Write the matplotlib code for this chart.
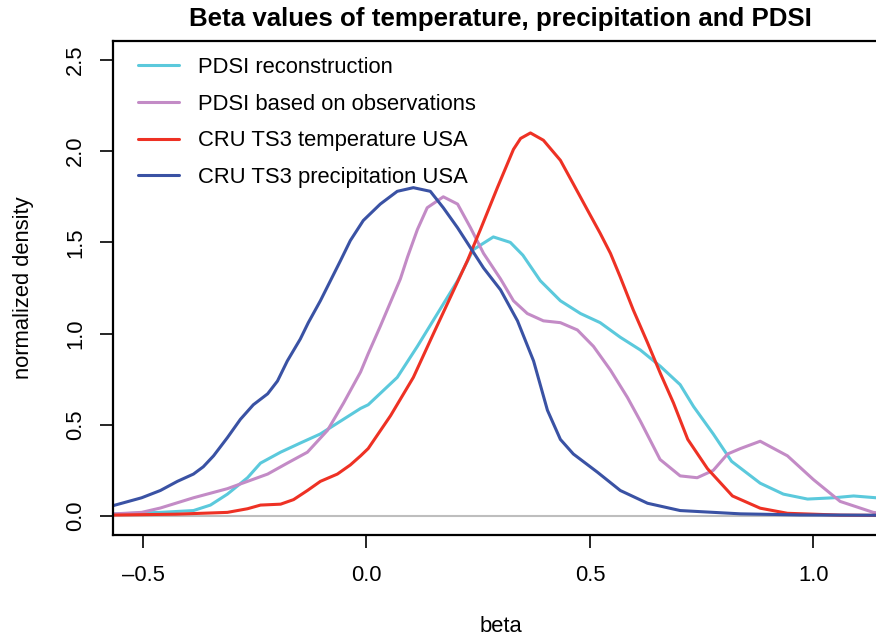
import matplotlib
matplotlib.use("Agg")
import matplotlib.pyplot as plt

plt.rcParams['font.family'] = ['Liberation Sans', 'DejaVu Sans']

# ---- data ----
series_labels = ["PDSI reconstruction", "PDSI based on observations",
                 "CRU TS3 temperature USA", "CRU TS3 precipitation USA"]

pdsi_rec_x = [-0.577, -0.461, -0.387, -0.349, -0.311, -0.266, -0.237, -0.192, -0.148,
              -0.103, -0.058, -0.013, 0.004, 0.069, 0.114, 0.159, 0.204, 0.239, 0.284,
              0.322, 0.350, 0.389, 0.434, 0.479, 0.523, 0.568, 0.613, 0.658, 0.702,
              0.732, 0.776, 0.817, 0.881, 0.933, 0.987, 1.045, 1.090, 1.141, 1.17]
pdsi_rec_y = [0.01, 0.02, 0.03, 0.06, 0.12, 0.21, 0.29, 0.35, 0.40,
              0.45, 0.52, 0.59, 0.61, 0.76, 0.93, 1.11, 1.29, 1.46, 1.53,
              1.50, 1.43, 1.29, 1.18, 1.11, 1.06, 0.98, 0.91, 0.82, 0.72,
              0.60, 0.45, 0.30, 0.18, 0.12, 0.093, 0.10, 0.11, 0.10, 0.09]

pdsi_obs_x = [-0.577, -0.503, -0.461, -0.387, -0.311, -0.266, -0.221, -0.177, -0.132,
              -0.087, -0.051, -0.013, 0.004, 0.031, 0.076, 0.092, 0.114, 0.136, 0.172,
              0.204, 0.233, 0.262, 0.300, 0.329, 0.360, 0.396, 0.434, 0.472, 0.508,
              0.546, 0.584, 0.613, 0.657, 0.702, 0.740, 0.776, 0.808, 0.837, 0.881,
              0.942, 1.000, 1.060, 1.134, 1.17]
pdsi_obs_y = [0.01, 0.02, 0.044, 0.10, 0.15, 0.19, 0.23, 0.29, 0.35,
              0.47, 0.62, 0.79, 0.89, 1.04, 1.30, 1.42, 1.57, 1.69, 1.75,
              1.71, 1.58, 1.44, 1.30, 1.18, 1.11, 1.07, 1.06, 1.02, 0.93,
              0.80, 0.65, 0.52, 0.31, 0.22, 0.21, 0.25, 0.34, 0.37, 0.41,
              0.33, 0.20, 0.08, 0.02, 0.01]

temp_x = [-0.577, -0.427, -0.311, -0.266, -0.237, -0.192, -0.163, -0.132, -0.103,
          -0.065, -0.036, -0.013, 0.004, 0.054, 0.105, 0.150, 0.188, 0.226, 0.255,
          0.293, 0.329, 0.345, 0.367, 0.396, 0.434, 0.463, 0.494, 0.523, 0.546,
          0.568, 0.597, 0.629, 0.658, 0.687, 0.719, 0.763, 0.819, 0.881, 0.942,
          1.060, 1.17]
temp_y = [0.005, 0.01, 0.02, 0.04, 0.06, 0.065, 0.09, 0.14, 0.19,
          0.23, 0.28, 0.33, 0.37, 0.55, 0.76, 1.00, 1.20, 1.40, 1.57,
          1.80, 2.01, 2.07, 2.10, 2.06, 1.95, 1.82, 1.68, 1.55, 1.44,
          1.31, 1.13, 0.95, 0.78, 0.62, 0.42, 0.26, 0.11, 0.043, 0.015,
          0.005, 0.003]

prec_x = [-0.577, -0.503, -0.461, -0.423, -0.387, -0.365, -0.342, -0.311, -0.282,
          -0.253, -0.221, -0.199, -0.177, -0.148, -0.130, -0.103, -0.058, -0.036,
          -0.007, 0.031, 0.069, 0.105, 0.143, 0.172, 0.204, 0.233, 0.262, 0.300,
          0.338, 0.374, 0.405, 0.434, 0.463, 0.517, 0.568, 0.629, 0.702, 0.837,
          0.970, 1.17]
prec_y = [0.05, 0.10, 0.14, 0.19, 0.23, 0.27, 0.33, 0.43, 0.53,
          0.61, 0.67, 0.74, 0.85, 0.97, 1.06, 1.18, 1.40, 1.51,
          1.62, 1.71, 1.78, 1.80, 1.78, 1.69, 1.58, 1.47, 1.36, 1.24,
          1.07, 0.85, 0.58, 0.42, 0.34, 0.24, 0.14, 0.07, 0.03, 0.012,
          0.006, 0.004]

colors = ["#5BC9DC", "#C38BC6", "#EE3124", "#3A52A4"]

xticks = [-0.5, 0.0, 0.5, 1.0]
yticks = [0.0, 0.5, 1.0, 1.5, 2.0, 2.5]

# ---- figure ----
W, H = 876, 639
fig = plt.figure(figsize=(W / 100, H / 100), dpi=100)
left, right, top, bottom = 113, 888, 41, 535
ax = fig.add_axes([left / W, 1 - bottom / H, (right - left) / W, (bottom - top) / H])

ax.axhline(0, color="#BEBEBE", lw=1.5, zorder=1)
for xs, ys, c, lab in zip([pdsi_rec_x, pdsi_obs_x, temp_x, prec_x],
                          [pdsi_rec_y, pdsi_obs_y, temp_y, prec_y],
                          colors, series_labels):
    ax.plot(xs, ys, color=c, lw=2.2, label=lab, zorder=2,
            solid_joinstyle="round", solid_capstyle="round")

ax.set_xlim(-0.567, 1.167)
ax.set_ylim(-0.104, 2.604)
ax.set_xticks(xticks)
ax.set_xticklabels([f"{v:.1f}".replace("-", "\u2013") for v in xticks])
ax.set_yticks(yticks)
ax.set_yticklabels([f"{v:.1f}" for v in yticks], rotation=90, va="center")

for s in ax.spines.values():
    s.set_linewidth(1.6)
ax.tick_params(axis="both", length=9.5, width=1.2, labelsize=15.8, pad=12)
ax.tick_params(axis="y", pad=10)

ax.set_xlabel("beta", fontsize=15.8, labelpad=22)
ax.set_ylabel("normalized density", fontsize=15.8, labelpad=22)
ax.set_title("Beta values of temperature, precipitation and PDSI",
             fontsize=18.6, fontweight="bold", pad=11)

leg = ax.legend(loc="upper left", bbox_to_anchor=(129 / W, 1 - 48 / H),
                bbox_transform=fig.transFigure, frameon=False,
                fontsize=15.8, handlelength=1.9, handletextpad=0.86,
                labelspacing=0.72, borderaxespad=0.0, borderpad=0.4)

fig.savefig("out.png", dpi=100)
